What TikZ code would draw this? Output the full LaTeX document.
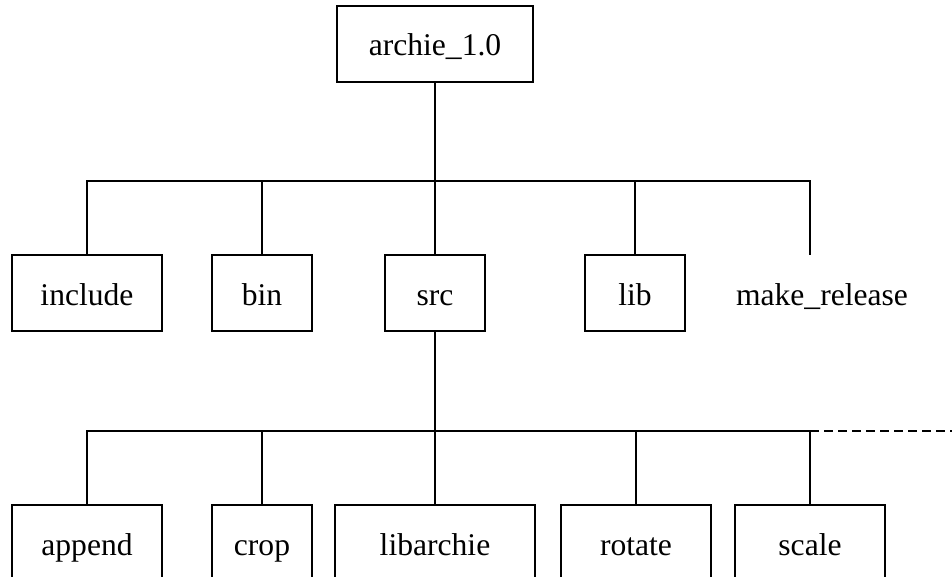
\documentclass[tikz,border=0pt]{standalone}
\usepackage{fontspec}
\setmainfont{Liberation Serif}
\begin{document}
\begin{tikzpicture}[x=1pt,y=-1pt,
  every node/.style={font=\fontsize{31.6}{36}\selectfont, inner sep=0pt, text height=26pt, text depth=2pt},
  dirbox/.style={draw, line width=1.8pt, minimum height=76pt},
  conn/.style={line width=1.8pt},
  more/.style={line width=1.8pt, dash pattern=on 9pt off 5pt}]
\useasboundingbox (0,0) rectangle (952,577);
\clip (0,0) rectangle (952,577);
% level 1
\node[dirbox, minimum width=196pt] (archie) at (435,44) {archie\_1.0};
% level 2
\node[dirbox, minimum width=150pt] (include) at (87,293) {include};
\node[dirbox, minimum width=100pt] (bin) at (262,293) {bin};
\node[dirbox, minimum width=100pt] (src) at (435,293) {src};
\node[dirbox, minimum width=100pt] (lib) at (635,293) {lib};
\node (make) at (822,293) {make\_release};
\coordinate (mtop) at (810,255);
\coordinate (bus1) at (435,181);
% level 3
\node[dirbox, minimum width=150pt] (append) at (87,543) {append};
\node[dirbox, minimum width=100pt] (crop) at (262,543) {crop};
\node[dirbox, minimum width=200pt] (libarchie) at (435,543) {libarchie};
\node[dirbox, minimum width=150pt] (rotate) at (636,543) {rotate};
\node[dirbox, minimum width=150pt] (scale) at (810,543) {scale};
\coordinate (bus2) at (435,431);
\coordinate (dashend) at (952,431);
% connectors level 1 -> 2
\draw[conn] (archie.south) -- (bus1);
\draw[conn] (include.north) |- (bus1);
\draw[conn] (bus1) -| (mtop);
\draw[conn] (bin.north) -- (bin.north |- bus1);
\draw[conn] (src.north) -- (bus1);
\draw[conn] (lib.north) -- (lib.north |- bus1);
% connectors level 2 -> 3
\draw[conn] (src.south) -- (bus2);
\draw[conn] (append.north) |- (bus2);
\draw[conn] (bus2) -| (scale.north);
\draw[conn] (crop.north) -- (crop.north |- bus2);
\draw[conn] (libarchie.north) -- (bus2);
\draw[conn] (rotate.north) -- (rotate.north |- bus2);
\draw[more] (scale.north |- bus2) -- (dashend);
\end{tikzpicture}
\end{document}
